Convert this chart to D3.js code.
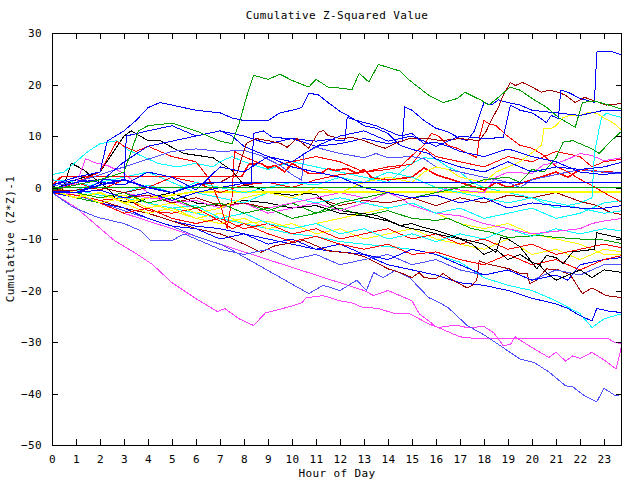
<!DOCTYPE html>
<html><head><meta charset="utf-8">
<script src="https://cdn.jsdelivr.net/npm/d3@7"></script>
<style>body{margin:0;background:#fff}text{font-family:"DejaVu Sans Mono",monospace;font-size:11px;letter-spacing:0.4px;fill:#000}</style>
</head><body>
<script>
const titleText = "Cumulative Z-Squared Value";
const xLabelText = "Hour of Day";
const yLabelText = "Cumulative (Z*Z)-1";
const xTicks = d3.range(0, 24);
const yTicks = [30, 20, 10, 0, -10, -20, -30, -40, -50];

// each series: [hour, cumulative value]
const sG1 = [[0,-0.5],[1,0.5],[2,1.5],[3,3],[3.6,11],[4,12],[5,12.5],[6,11],[7,9],[7.5,8.5],[7.8,12.5],[8.1,17.5],[8.4,21.8],[9,21],[9.5,22],[10,20.8],[10.7,19.5],[11,21],[11.5,19.5],[12,19.3],[12.5,19],[12.8,22.2],[13.2,20.5],[13.6,23.9],[14.5,22.6],[14.9,20.8],[15.7,17.9],[16.3,16.5],[16.9,17.3],[17.2,18.5],[17.9,16.9],[18.2,16],[18.6,17.5],[19.1,19.5],[19.5,18.9],[20,17.3],[20.6,15.6],[21.1,13.6],[21.8,11.7],[22.1,16.5],[22.6,16.8],[23.2,16],[23.75,15.2]];
const sBtop = [[0,-0.8],[1,-1],[2,1],[3,0.5],[4,3],[5,2],[6,-0.5],[7,4],[8,3],[9,6],[10,5],[11,8],[12,10],[13,11],[14,9],[15,10],[16,8],[17,10],[18,9.5],[18.8,9.7],[19.1,16],[19.5,15],[20,14.5],[20.3,13.6],[20.6,12.6],[20.8,14],[21.1,13.4],[21.2,18.9],[21.5,18.5],[22,17.3],[22.6,16.5],[22.7,26.3],[23,26.5],[23.4,26.3],[23.75,25.7]];
const sDRtop = [[0,-0.6],[1,-0.5],[2,0],[3,-1],[4,0],[5,-1],[6,0.5],[7,1],[7.7,2.7],[8.1,8.6],[8.5,9.5],[9,9.1],[9.5,8.6],[9.8,7.8],[10.2,9.5],[10.7,7.6],[11.1,10.7],[11.3,11.1],[11.5,10.1],[12,9.5],[12.5,9.7],[13,9.1],[13.5,8.2],[13.9,7.6],[14.3,8.6],[14.9,9.5],[15.7,9.5],[16.2,9.1],[17,9.5],[17.8,9.1],[18.1,11],[18.3,13],[18.6,15.6],[18.8,17.9],[19.1,20.4],[19.3,19.8],[19.6,20.4],[20,19.5],[20.4,18.5],[20.7,18.9],[21.1,18.5],[21.4,17.9],[21.8,16.5],[22.2,17.5],[22.5,17],[23.1,16],[23.75,16.3]];
const sBj = [[0,0.5],[1,1.5],[2,1],[3,5],[4,8],[5,9],[6,10],[7,11],[8,10],[9,8.5],[10,9.5],[11,8],[12,8.5],[13,9.5],[14,8.5],[14.6,9],[14.7,15.6],[15,15],[15.5,13],[16,11.5],[16.5,10.8],[17,9.5],[17.3,9.1],[17.6,11],[18,16.5],[18.3,16],[18.6,17],[19,16.5],[19.5,16],[20,15],[21,14.5],[22,14],[23,15],[23.75,15]];
const sBu = [[0,-0.3],[1,1],[2,1.5],[3,1.4],[3.1,10],[4,11],[5,12],[6,10],[7,11],[7.5,10],[8,8],[9,6],[10,4],[11,3],[12,2],[13,0],[14,-1],[15,-2],[16,-1.5],[17,-3],[18,-2],[19,-4],[20,-3],[21,-3.5],[22,-4],[23,-4],[23.75,-3.5]];
const sBb = [[0,0.5],[1,2],[2,3],[2.3,9],[3,11],[3.5,13],[4,15.5],[4.5,16.5],[5,16],[6,15],[7,14.5],[7.5,13.5],[8,13],[8.5,13],[9,13],[9.5,14.5],[10,15],[10.4,15.5],[10.7,18.3],[11.1,18],[11.5,16.5],[12,14.8],[12.5,13.5],[13,12],[13.5,11.5],[14,10.5],[14.5,8.2],[15,7.4],[15.7,6.6],[16,5.5],[17,4],[18,3],[19,5],[20,3],[21,4],[22,3.5],[23,4],[23.75,4.9]];
const sBk = [[0,-0.5],[1,-1],[2,-0.5],[3,-2],[4,-1],[5,-2.5],[6,-1],[7,0],[8,0.8],[8.3,0.8],[8.4,10.5],[8.8,11],[9.2,9.7],[10,9.5],[11,9],[11.5,9.3],[12.2,9.1],[12.3,13.6],[12.7,13],[13.5,12],[14,11],[14.5,10],[15,10.5],[15.5,8.5],[16,8.8],[16.5,8],[17,7],[18,6],[19,7.5],[20,6],[21,5],[22,3],[23,2.5],[23.75,3]];
const sG2 = [[0,-1],[1,-1],[2,-2],[3,-1],[4,-3],[5,-2],[6,-4],[7,-3],[8,-5],[9,-4],[10,-6],[11,-5],[12,-3],[13,-2],[14,-1],[15,-2],[16,-1],[17,0],[18,1.5],[19,2],[19.5,1],[20,3.5],[20.5,3],[21,5.8],[21.3,8.8],[21.7,9.1],[22,8.5],[22.5,7.5],[22.8,6.6],[23.2,8.6],[23.75,11]];
const sY1 = [[0,-0.7],[1,-1],[2,-3],[3,-2],[4,-4],[5,-3],[6,-5],[7,-4],[8,-2],[9,-1],[10,-2],[11,0],[12,-1],[13,1],[14,2],[15,1],[15.5,3],[16,4],[16.5,3.5],[17,2],[18,1],[18.5,3],[19,4],[19.5,5],[20.4,8.2],[20.5,11.5],[20.8,11.5],[21,12],[21.3,13.6],[21.6,14],[22,14],[22.4,14.6],[22.7,14.4],[23,13.5],[23.4,12.5],[23.75,11.1]];
const sC1 = [[0,1.5],[1,1],[2,0],[3,-1],[4,0.5],[5,-1],[6,1],[7,0],[8,-1],[9,0],[10,1],[11,0.5],[12,2],[13,1],[14,3],[15,2],[16,0],[17,-1],[18,-2],[19,-3],[20,-2],[21,-4],[22,-3],[22.5,-2],[22.6,6.5],[22.8,11.5],[22.9,13.6],[23.1,14.4],[23.4,14],[23.75,13.6]];
const sMup = [[0,-0.5],[1,1],[2,0],[3,-1],[4,-2],[5,-2.5],[6,-4],[7,-3],[8,-5],[9,-4],[10,-3],[11,-2],[12,-1],[13,-2],[14,-1],[15,-2],[16,-1],[16.5,0],[17,-0.5],[18,-1],[18.5,2],[19,3],[20,2.7],[20.5,4.5],[21,4.7],[21.5,5.5],[22,6.6],[22.5,6.2],[23,5.2],[23.75,5.8]];
const sRa = [[0,-1],[1,1],[2,-0.5],[3,1.5],[4,0],[5,2],[6,1],[7,-1],[8,0.5],[9,1],[10,0],[11,1.5],[12,2.5],[13,3],[14,3.5],[14.5,4],[15,6.2],[15.5,8.2],[15.8,10.5],[16.1,10],[16.5,8.2],[16.9,7.6],[17.7,5.8],[17.8,9.5],[18,13],[18.2,12.4],[18.5,12],[19,9.9],[19.5,8.2],[20,7.6],[20.5,6.2],[21,4.1],[21.5,3],[22,1.6],[22.5,0.4],[23,-1],[23.75,-2.9]];
const sSup = [[0,0.3],[1,1],[2,2.5],[3,4],[4,5.5],[5,7],[6,7.5],[7,7],[8,7.2],[8.7,6.2],[9.5,4.3],[10,2.5],[10.4,1.4],[10.5,6.6],[11,7.8],[12,6.6],[13,5.8],[13.5,6.6],[14,5.8],[15,6],[15.5,5.6],[16,4],[17,3],[18,2],[19,1],[19.5,0],[20,1.5],[21,2.5],[22,3.5],[23,3],[23.75,2.7]];
const sBflat = [[0,-1],[1,-1],[2,0.5],[3,1.5],[4,0],[5,-1],[6,0.5],[6.5,1],[23.75,1]];
const sGflat = [[0,0],[23.75,0]];
const sYflat = [[0,-0.5],[1,-2],[2,-1],[3,-3],[4,-2],[5,-1.5],[5.8,-0.9],[23.75,-0.9]];
const sRflat = [[0,0.5],[0.4,2.1],[7.9,2.1],[8.2,4.5],[8.7,4.7],[9,3.8],[9.3,4.3],[9.7,3],[10,4.7],[10.3,3.9],[10.7,2.7],[11.2,2.7],[11.5,3.7],[11.8,3.3],[12.3,3.7],[12.7,2.7],[13,3.5],[13.3,2],[14,1.5],[15,2],[15.5,3.8],[16,2.5],[17,1],[18,-0.5],[18.5,1],[19,0],[20,1.5],[21,3],[21.5,2],[22,3.5],[23,3],[23.75,2.9]];
const sRe = [[0,-0.5],[1,1],[2,3],[2.7,9],[3,8],[3.5,7],[4,8],[5,6],[6,5],[6.5,2],[7,-3],[7.3,-8],[7.5,-2],[7.6,7],[8,6],[9,4],[10,5],[11,6],[12,5],[13,3],[14,4],[15,4.5],[15.5,7.6],[16,6],[17,5],[18,4],[19,6],[20,5],[21,7],[22,6],[22.5,4],[23,5],[23.75,5.5]];
const sDRmid = [[0,-0.8],[1,-1],[2,-0.5],[3,-2],[4,-1.5],[5,-3],[6,-2],[7,-3.5],[8,-3],[9,-4],[10,-3],[11,-2],[12,-3.5],[13,-2.5],[14,-3],[15,-2],[16,-3.5],[17,-2],[18,-3],[19,-1.5],[20,-2],[21,-1],[22,-2.7],[22.7,-3.5],[23.2,-4.7],[23.75,-5.3]];
const sMmid = [[0,1.5],[1,0.5],[1.4,5.6],[1.8,4.8],[2.3,4.3],[3,2.7],[4,-1],[5,-3],[6,-2.5],[7,-4],[8,-3],[9,-5],[10,-4],[11,-3],[12,-4.5],[13,-3],[14,-1],[14.5,-2],[15,-3.5],[16,-5],[17,-5.5],[18,-7],[19,-8],[20,-9],[21,-8.5],[22,-8],[22.5,-7],[23,-6.5],[23.75,-6]];
const sCmid = [[0,-1],[1,-1],[2,-2],[3,-1],[4,-3],[5,-4],[6,-3.5],[7,-6],[8,-5],[9,-7],[10,-8],[11,-7],[12,-9],[13,-8],[14,-10],[15,-9],[16,-10.5],[17,-9],[18,-10],[19,-8],[20,-9.5],[21,-8],[22,-9],[23,-8],[23.75,-8.4]];
const sK1 = [[0,0.5],[0.4,-1],[0.8,4.7],[1.3,3.5],[1.7,2],[2.4,-0.5],[2.7,-2.5],[3.5,-3],[4,-2],[5,-1],[6,-3],[7,-3.5],[8,-2.5],[9,-3],[10,-4],[11,-3.5],[12,-5],[13,-5.5],[14,-6.5],[14.5,-7.4],[15,-7],[15.5,-7.8],[16,-8.3],[17,-9.9],[18,-11],[18.5,-12.6],[18.7,-9.7],[19,-10],[19.5,-11.5],[20.2,-15.8],[20.6,-13.2],[21,-13.6],[21.3,-14.8],[21.7,-12.5],[22.6,-12],[22.7,-8.8],[23.2,-9.3],[23.75,-9.9]];
const sK2 = [[0,-0.5],[1,1.5],[2,3],[3,10],[3.3,11],[4,9.1],[4.5,9.1],[5,7.8],[5.5,6.6],[6.7,5.8],[7.5,3.3],[8,0.5],[8.5,0],[9,-1],[10,-1.5],[10.6,-1.2],[11,-1.3],[11.3,-2.5],[12,-4.5],[12.5,-4.8],[13.5,-5.4],[14,-6.3],[14.5,-7.4],[15,-8],[15.5,-8.4],[16,-9],[17,-10],[17.5,-11],[18,-13],[18.5,-12],[19,-14],[19.5,-13],[20,-14.5],[20.3,-15],[20.6,-16.5],[21,-18],[21.5,-17],[22,-16],[22.5,-17.5],[23,-16],[23.75,-16.5]];
const sG3 = [[0,-0.5],[1,-2],[2,-3],[3,-2],[4,-4],[5,-3],[6,-5],[7,-4],[8,-3],[9,-4.5],[10,-3],[11,-5],[12,-4],[13,-5.5],[14,-4.5],[15,-6],[16,-6.4],[16.5,-6],[17.5,-8],[18.3,-8.7],[19,-9.7],[20.3,-9.3],[21,-9.7],[22,-10],[23,-10.2],[23.75,-10.9]];
const sRc = [[0,-1],[1,-1],[2,-3],[3,-5],[4,-4],[5,-6],[6,-7],[7,-6],[8,-8],[9,-7],[10,-9],[11,-8],[12,-10],[13,-9],[14,-8],[15,-10],[16,-9],[17,-11],[18,-10],[19,-12],[20,-11],[21,-13],[22,-12],[23,-11],[23.75,-11.7]];
const sY2 = [[0,-0.5],[1,-2],[2,-1],[3,-3],[4,-5],[5,-4],[6,-6],[7,-7],[8,-6],[9,-8],[10,-7],[11,-9],[12,-8],[13,-10],[14,-9],[15,-8],[16,-10],[17,-11],[18,-12],[19,-10],[20,-13],[21,-12],[22,-14],[23,-12],[23.75,-12.5]];
const sRd = [[0,-1],[1,-1.5],[2,-2.5],[3,-2],[4,-4.5],[5,-5],[6,-4],[7,-6.5],[7.5,-8],[8,-7],[9,-9],[10,-10.5],[11,-9.5],[12,-11],[13,-12],[14,-11],[15,-13],[16,-12.5],[17,-14],[18,-15],[19,-13],[20,-15],[21,-14],[22,-16],[23,-14],[23.75,-13.2]];
const sBm = [[0,-1],[1,-2],[2,-3],[3,-4],[4,-6],[5,-7.5],[6,-8],[7,-10],[8,-9],[9,-11],[10,-10],[11,-12],[12,-11],[13,-13],[14,-14],[15,-12],[16,-13],[17,-15],[18,-17],[19,-16],[20,-18],[21,-17],[21.5,-18],[22,-15],[23,-14],[23.75,-13.6]];
const sY3 = [[0,0],[1,-1],[2,-2],[3,-1.5],[4,-3],[5,-4.5],[6,-6],[7,-5],[8,-7],[9,-6.5],[10,-8],[11,-7],[12,-6],[13,-5],[14,-4],[15,-3],[16,-5],[17,-7],[18,-8],[19,-7],[20,-9],[21,-10],[22,-11],[23,-13],[23.75,-13]];
const sC2 = [[0,2.5],[0.5,3],[1,5],[1.5,7],[2,8.5],[2.7,9.1],[3.2,7.2],[3.7,6.2],[4.4,4.7],[5.2,4],[6,4.7],[6.7,4],[7,5],[7.5,6],[8,5],[9,3.5],[10,5],[11,4],[12,3],[13,2],[14,1],[15,4.7],[15.5,5.8],[16,5.5],[16.5,4],[17,3],[17.5,1],[18,0],[19,-1],[20,-2],[21,-3],[22,-4],[23,-5],[23.75,-4.5]];
const sC3 = [[0,-0.5],[1,-0.5],[2,1],[3,2],[4,3],[5,1],[6,-1],[7,-2],[8,-3],[9,-1],[10,-2],[11,-3],[12,-2],[13,-3],[14,-4],[15,-3],[16,-5],[17,-4],[18,-6],[19,-5],[20,-4],[21,-6],[22,-5],[23,-3],[23.75,-2.5]];
const sSL2 = [[0,-1],[0.9,-3.9],[1.9,-5.8],[3,-7],[3.7,-8.4],[4.1,-10.3],[5,-10.3],[5.5,-9],[6,-10],[7,-12],[8,-13],[9,-12],[10,-14],[11,-13],[12,-15],[13,-14],[14,-13],[15,-15],[16,-14],[17,-16],[18,-17],[19,-16],[20,-18],[21,-16],[22,-17],[23,-15],[23.75,-15]];
const sDRlow = [[0,-1],[1,-1.5],[2,-2.5],[3,-4],[4,-5],[5,-6.5],[6,-8],[7,-9],[7.4,-9.7],[8,-11],[8.7,-12.6],[9.3,-11.3],[10.5,-10.3],[11,-11.3],[11.5,-12.3],[12.5,-12.8],[13,-13.4],[13.6,-14.8],[14,-15.8],[14.5,-16.5],[15,-17.5],[15.3,-16.5],[15.5,-17.5],[16,-17.7],[16.3,-16.7],[16.7,-18],[17.3,-19.5],[17.5,-19],[17.7,-18],[17.8,-14.2],[18.1,-14.8],[18.5,-15.2],[19.05,-15.8],[19.5,-16.7],[19.8,-16.7],[19.9,-18.7],[20.2,-18],[20.6,-15.8],[21.1,-16],[21.6,-17],[22.1,-20.6],[22.5,-19.5],[23.1,-21],[23.75,-21.4]];
const sBlow = [[0,-1],[1,-1],[2,-3],[3,-4],[4,-5],[5,-6.5],[6,-7.5],[7,-8],[8,-9],[9,-10],[10,-11],[11,-12],[12,-12.5],[13,-13],[14,-15],[15,-16],[16,-17],[17,-18.5],[18,-19],[19,-20],[20,-21.5],[21,-22.6],[21.5,-23.5],[22,-24.9],[22.5,-25.9],[22.7,-23.5],[23.2,-24],[23.75,-24.3]];
const sClow = [[0,-0.5],[1,-0.5],[2,-1.5],[3,-2],[4,-3],[5,-4],[6,-5],[7,-6],[8,-7],[9,-8],[10,-9],[11,-9.5],[12,-10.5],[13,-11],[14,-11.5],[15,-12],[16,-13],[17,-14.5],[18,-17.5],[19,-19],[20,-20],[21,-22],[22,-24.5],[22.5,-27.2],[23,-25.5],[23.75,-24.5]];
const sM2 = [[0,-0.5],[1,-1.5],[2,-3],[3,-5],[4,-6.5],[5,-8],[6,-9.5],[7,-11],[8,-12.5],[9,-14],[10,-15.5],[11,-17],[12,-18.5],[13,-20],[13.4,-21],[14,-20],[14.5,-21],[15,-22],[15.3,-24.5],[16,-27],[17,-29],[17.8,-29.4],[23.2,-29.4],[23.4,-30],[23.75,-30.4]];
const sM1 = [[0,-1],[1,-3.9],[2,-7.9],[2.6,-10.3],[3.5,-12.8],[4.2,-15],[5,-18.5],[6,-21.6],[6.9,-24.1],[7.2,-23.5],[7.8,-25.5],[8.4,-26.8],[8.9,-24.3],[9.3,-23.9],[10,-23],[10.4,-22.4],[10.6,-21.4],[11.3,-21],[12,-22],[12.5,-22.4],[12.9,-23.2],[13.6,-23.5],[14.3,-24.5],[14.9,-24.5],[15.7,-26.5],[16.1,-27.2],[16.8,-26.7],[17.3,-27.2],[18,-27],[18.4,-28.2],[18.8,-30.7],[19.1,-30.5],[19.3,-29],[19.8,-30.5],[20.7,-33],[21,-32],[21.4,-33.7],[21.7,-32.7],[22,-33.2],[22.5,-32],[23,-33.5],[23.5,-35.2],[23.75,-30.5]];
const sSL = [[0,-1],[1,-1.5],[2,-3],[3,-4.5],[4,-6],[5,-7.5],[6,-9.5],[7,-11],[7.4,-11.9],[8.8,-15.6],[10.7,-20.6],[11.3,-19],[12,-20],[12.7,-18],[13.1,-20],[13.4,-16.5],[13.8,-17.5],[14.3,-16.1],[14.9,-17.5],[15.7,-21.4],[16,-22],[16.5,-23.3],[17.3,-26.8],[18,-28.6],[19.5,-33.3],[20.1,-34],[20.7,-35.8],[21.4,-38.5],[21.7,-38.7],[22.2,-40.5],[22.7,-41.6],[23,-39],[23.5,-40.5],[23.75,-40]];

const seriesData = [sM1, sM2, sSL, sClow, sBlow, sDRlow, sSL2, sY3, sBm, sRd, sY2, sRc, sG3, sK2, sK1, sCmid, sMmid, sDRmid, sC3, sC2, sYflat, sRe, sRflat, sSup, sRa, sMup, sC1, sY1, sG2, sBk, sBb, sBu, sBj, sDRtop, sBtop, sG1, sGflat, sBflat];
const seriesColors = ["#ff40ff","#ff40ff","#5050ff","#00ffff","#0000ff","#a00000","#5050ff","#ffff00","#0000ff","#ff0000","#ffff00","#ff0000","#00a000","#000000","#000000","#00ffff","#ff40ff","#a00000","#00ffff","#00ffff","#ffff00","#ff0000","#ff0000","#5050ff","#ff0000","#ff40ff","#00ffff","#ffff00","#00a000","#0000ff","#0000ff","#0000ff","#0000ff","#a00000","#0000ff","#00a000","#00a000","#0000ff"];

const W = 640, H = 480, L = 52, R = 622, T = 33, B = 445;
const x = d3.scaleLinear().domain([0, 23.75]).range([L, R]);
const y = d3.scaleLinear().domain([-50, 30]).range([B, T]);

const svg = d3.select("body").append("svg").attr("width", W).attr("height", H);
svg.append("rect").attr("width", W).attr("height", H).attr("fill", "#fff");

svg.append("clipPath").attr("id", "pc").append("rect")
  .attr("x", L).attr("y", T).attr("width", R - L).attr("height", B - T);

const line = d3.line().x(d => x(d[0])).y(d => y(d[1]));
const g = svg.append("g").attr("clip-path", "url(#pc)");
seriesData.forEach((s, i) => {
  const flat = (s === sGflat || s === sBflat || s === sYflat || s === sRflat);
  g.append("path").attr("d", line(s)).attr("fill", "none")
    .attr("stroke", seriesColors[i]).attr("stroke-width", flat ? 1.6 : 1)
    .attr("shape-rendering", "crispEdges");
});

const ax = svg.append("g").attr("shape-rendering", "crispEdges");
ax.append("g").attr("transform", `translate(0,${B})`)
  .call(d3.axisBottom(x).tickValues(xTicks).tickSizeInner(-6).tickSizeOuter(0).tickPadding(10).tickFormat(d3.format("d")));
ax.append("g").attr("transform", `translate(0,${T})`)
  .call(d3.axisTop(x).tickValues(xTicks).tickSizeInner(-6).tickSizeOuter(0).tickFormat(""));
ax.append("g").attr("transform", `translate(${L},0)`)
  .call(d3.axisLeft(y).tickValues(yTicks).tickSizeInner(-6).tickSizeOuter(0).tickPadding(10).tickFormat(d3.format("d")));
ax.append("g").attr("transform", `translate(${R},0)`)
  .call(d3.axisRight(y).tickValues(yTicks).tickSizeInner(-6).tickSizeOuter(0).tickFormat(""));
ax.selectAll(".domain").remove();
ax.selectAll("line").attr("stroke", "#000");
ax.selectAll("text").attr("font-family", null).attr("font-size", null).attr("fill", "#000");
svg.append("rect").attr("x", L + 0.5).attr("y", T + 0.5).attr("width", R - L - 1).attr("height", B - T)
  .attr("fill", "none").attr("stroke", "#000").attr("shape-rendering", "crispEdges");

svg.append("text").attr("x", (L + R) / 2).attr("y", 19).attr("text-anchor", "middle").text(titleText);
svg.append("text").attr("x", (L + R) / 2).attr("y", 477).attr("text-anchor", "middle").text(xLabelText);
svg.append("text").attr("transform", `translate(14,${(T + B) / 2}) rotate(-90)`).attr("text-anchor", "middle").text(yLabelText);
</script>
</body></html>
